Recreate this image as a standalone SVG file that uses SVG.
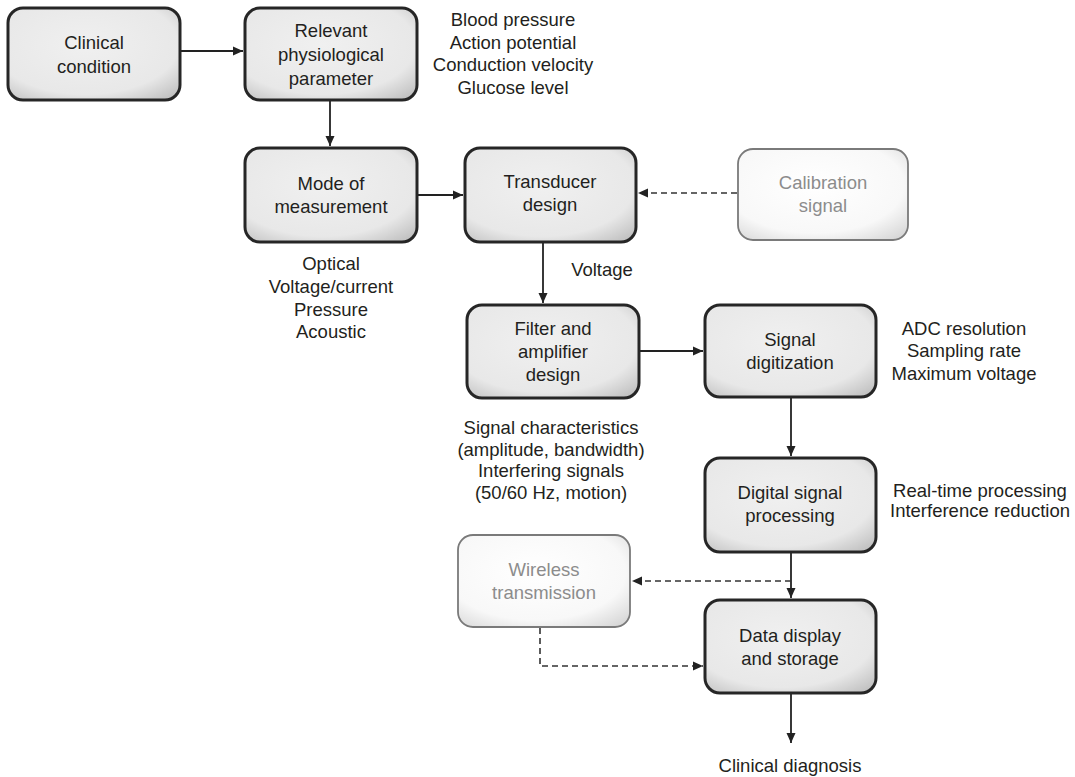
<svg xmlns="http://www.w3.org/2000/svg" width="1075" height="777" viewBox="0 0 1075 777">
<defs>
<radialGradient id="gDark" cx="45%" cy="40%" r="75%">
<stop offset="0%" stop-color="#f0f0f0"/>
<stop offset="72%" stop-color="#e8e8e8"/>
<stop offset="100%" stop-color="#c2c2c2"/>
</radialGradient>
<radialGradient id="gLight" cx="45%" cy="40%" r="75%">
<stop offset="0%" stop-color="#ffffff"/>
<stop offset="70%" stop-color="#f8f8f8"/>
<stop offset="100%" stop-color="#d8d8d8"/>
</radialGradient>
<marker id="ah" viewBox="0 0 10 10" refX="10" refY="5" markerWidth="10" markerHeight="10" markerUnits="userSpaceOnUse" orient="auto">
<path d="M0,0.5 L10,5 L0,9.5 Z" fill="#222"/>
</marker>
</defs>
<style>
.box{fill:url(#gDark);stroke:#262626;stroke-width:3}
.gbox{fill:url(#gLight);stroke:#7a7a7a;stroke-width:1.8}
text{font-family:"Liberation Sans",Arial,sans-serif;font-size:18.5px;fill:#231f20;text-anchor:middle}
.gt{fill:#8c8c8c}
.ln{fill:none;stroke:#222;stroke-width:1.8}
.dl{fill:none;stroke:#333;stroke-width:1.6;stroke-dasharray:6 4}
</style>
<rect width="1075" height="777" fill="#ffffff"/>

<g id="connectors">
<line class="ln" x1="180" y1="51" x2="243" y2="51" marker-end="url(#ah)"/>
<line class="ln" x1="330" y1="100" x2="330" y2="146" marker-end="url(#ah)"/>
<line class="ln" x1="417" y1="195" x2="463" y2="195" marker-end="url(#ah)"/>
<line class="dl" x1="737" y1="193" x2="638" y2="193" marker-end="url(#ah)"/>
<line class="ln" x1="543" y1="242" x2="543" y2="303" marker-end="url(#ah)"/>
<line class="ln" x1="639" y1="351" x2="703" y2="351" marker-end="url(#ah)"/>
<line class="ln" x1="791" y1="397" x2="791" y2="456" marker-end="url(#ah)"/>
<line class="ln" x1="791" y1="552" x2="791" y2="598" marker-end="url(#ah)"/>
<line class="dl" x1="791" y1="581" x2="632" y2="581" marker-end="url(#ah)"/>
<polyline class="dl" points="540,628 540,666 703,666" marker-end="url(#ah)"/>
<line class="ln" x1="791" y1="693" x2="791" y2="743" marker-end="url(#ah)"/>
</g>

<g id="clinical-condition">
<rect class="box" x="8" y="8" width="172" height="92" rx="15"/>
<text x="94" y="49">Clinical</text>
<text x="94" y="73">condition</text>
</g>

<g id="relevant-parameter">
<rect class="box" x="245" y="8" width="172" height="92" rx="15"/>
<text x="331" y="37">Relevant</text>
<text x="331" y="61">physiological</text>
<text x="331" y="85">parameter</text>
</g>

<g id="parameter-examples">
<text x="513" y="26">Blood pressure</text>
<text x="513" y="49">Action potential</text>
<text x="513" y="71">Conduction velocity</text>
<text x="513" y="94">Glucose level</text>
</g>

<g id="mode-of-measurement">
<rect class="box" x="245" y="148" width="172" height="94" rx="15"/>
<text x="331" y="190">Mode of</text>
<text x="331" y="213">measurement</text>
</g>

<g id="mode-examples">
<text x="331" y="270">Optical</text>
<text x="331" y="293">Voltage/current</text>
<text x="331" y="316">Pressure</text>
<text x="331" y="338">Acoustic</text>
</g>

<g id="transducer-design">
<rect class="box" x="465" y="148" width="171" height="94" rx="15"/>
<text x="550" y="188">Transducer</text>
<text x="550" y="211">design</text>
</g>

<g id="calibration-signal">
<rect class="gbox" x="738" y="149" width="170" height="91" rx="15"/>
<text class="gt" x="823" y="189">Calibration</text>
<text class="gt" x="823" y="212">signal</text>
</g>

<g id="voltage-label">
<text x="602" y="276">Voltage</text>
</g>

<g id="filter-amplifier">
<rect class="box" x="467" y="305" width="172" height="93" rx="15"/>
<text x="553" y="335">Filter and</text>
<text x="553" y="358">amplifier</text>
<text x="553" y="381">design</text>
</g>

<g id="filter-notes">
<text x="551" y="434">Signal characteristics</text>
<text x="551" y="456">(amplitude, bandwidth)</text>
<text x="551" y="477">Interfering signals</text>
<text x="551" y="499">(50/60 Hz, motion)</text>
</g>

<g id="signal-digitization">
<rect class="box" x="705" y="305" width="171" height="92" rx="15"/>
<text x="790" y="346">Signal</text>
<text x="790" y="369">digitization</text>
</g>

<g id="digitization-notes">
<text x="964" y="335">ADC resolution</text>
<text x="964" y="357">Sampling rate</text>
<text x="964" y="380">Maximum voltage</text>
</g>

<g id="digital-signal-processing">
<rect class="box" x="705" y="458" width="171" height="94" rx="15"/>
<text x="790" y="499">Digital signal</text>
<text x="790" y="522">processing</text>
</g>

<g id="dsp-notes">
<text x="980" y="497">Real-time processing</text>
<text x="980" y="517">Interference reduction</text>
</g>

<g id="wireless-transmission">
<rect class="gbox" x="458" y="535" width="172" height="92" rx="15"/>
<text class="gt" x="544" y="576">Wireless</text>
<text class="gt" x="544" y="599">transmission</text>
</g>

<g id="data-display-storage">
<rect class="box" x="705" y="600" width="171" height="93" rx="15"/>
<text x="790" y="642">Data display</text>
<text x="790" y="665">and storage</text>
</g>

<g id="clinical-diagnosis">
<text x="790" y="772">Clinical diagnosis</text>
</g>
</svg>
